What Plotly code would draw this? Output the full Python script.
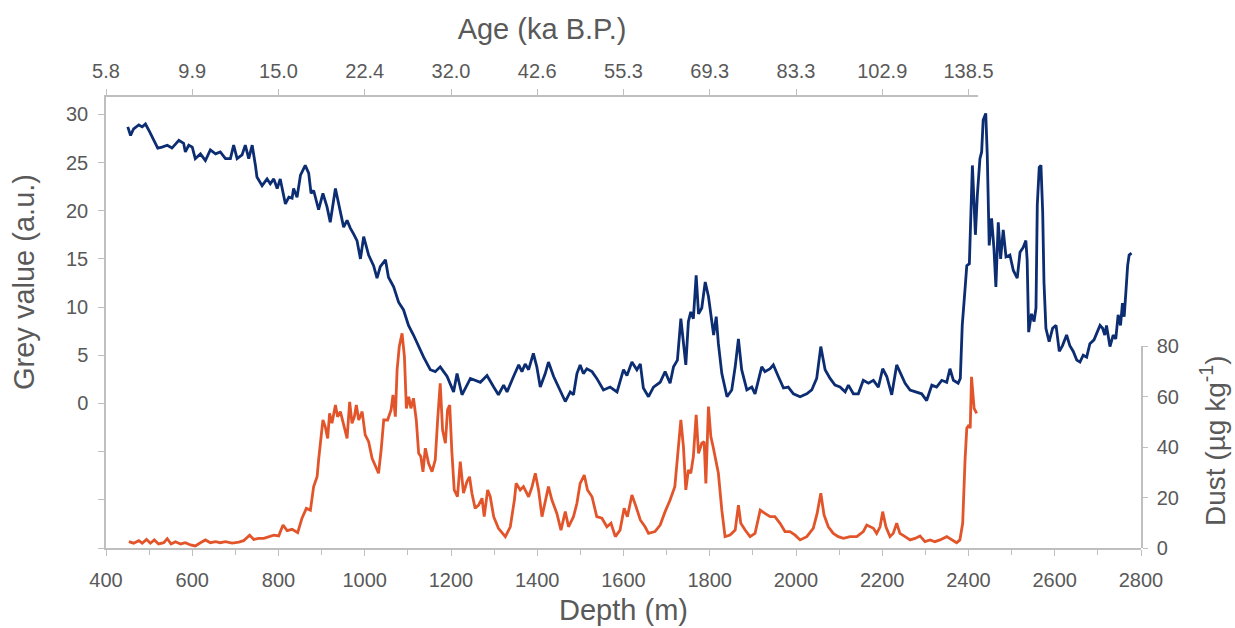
import plotly.graph_objects as go

# ---------------- data ----------------
grey_depth = [450.5, 457, 464, 476, 484, 491.5, 501, 511, 520, 530, 542, 553, 569, 580, 584, 592, 600, 607, 619, 630.5,
              642, 654, 665, 677, 688.5, 696, 704, 715.5, 723, 731, 739, 746.5, 750, 762, 773.5, 781, 789, 797, 804, 816,
              824, 831.5, 835, 843, 851, 862, 870, 875.5, 881.5, 893, 903, 912.5, 920, 932, 939.5, 951, 959, 966.5, 974, 982,
              990, 997.5, 1009, 1020.5, 1028.5, 1036, 1048, 1055, 1067, 1078.5, 1090, 1101.5, 1113, 1125, 1136.5, 1152,
              1163.5, 1175, 1191, 1206, 1214, 1225.5, 1245, 1268, 1283.5, 1299, 1310, 1322, 1330, 1345, 1357, 1364.5, 1372,
              1380, 1391, 1399, 1407, 1418.5, 1426, 1438, 1449, 1457, 1465, 1476.5, 1484, 1492, 1499.5, 1507, 1515, 1527,
              1538, 1553.5, 1569, 1585, 1600, 1608, 1619.5, 1631, 1639, 1646, 1658, 1669.5, 1685, 1696.5, 1708, 1716, 1725,
              1733, 1739, 1744.5, 1750.5, 1756, 1762, 1768.5, 1774, 1781.5, 1789.5, 1797, 1809, 1815, 1820, 1828, 1840,
              1851, 1859, 1866.5, 1874, 1886, 1897.5, 1905, 1920.5, 1928, 1940, 1947.5, 1959, 1971, 1982, 1994, 2009.5,
              2025, 2036.5, 2048, 2057.5, 2067.5, 2079, 2090.5, 2102, 2114, 2121.5, 2133, 2144.5, 2156, 2168, 2179.5, 2191,
              2201, 2210.5, 2222, 2233.5, 2245, 2253, 2264.5, 2276, 2291.5, 2303, 2315, 2326, 2338, 2349.5, 2357, 2365,
              2376, 2381, 2385.5, 2392, 2396, 2402, 2406, 2409, 2413, 2416, 2420.5, 2426.5, 2430.5, 2434, 2440, 2443.5,
              2448, 2453.5, 2459, 2463.5, 2469, 2474.5, 2480.5, 2487, 2496, 2504, 2513, 2519.5, 2527, 2533, 2536, 2539.5,
              2546, 2552, 2556.5, 2559.5, 2564, 2568, 2572, 2575, 2579.5, 2587, 2595, 2603, 2610.5, 2618, 2627.5, 2635,
              2643, 2651, 2658.5, 2666, 2674, 2681.5, 2691, 2697, 2705, 2711, 2716, 2720, 2728, 2735.5, 2741.5, 2747,
              2752.5, 2757, 2761, 2765, 2769, 2772.5, 2778]
grey_value = [28.7, 27.8, 28.5, 28.9, 28.7, 29.0, 28.2, 27.3, 26.5, 26.6, 26.8, 26.5, 27.3, 27.0, 26.1, 26.8, 26.6, 25.4,
              25.9, 25.2, 26.3, 25.9, 26.1, 25.4, 25.4, 26.8, 25.4, 25.8, 26.8, 25.4, 26.8, 24.7, 23.5, 22.6, 23.3, 22.8,
              23.3, 22.3, 23.3, 20.7, 21.4, 21.3, 22.3, 21.4, 23.7, 24.7, 23.9, 21.8, 22.1, 20.1, 21.8, 20.4, 18.8, 22.3,
              20.7, 18.3, 19.0, 18.2, 17.6, 16.9, 15.0, 17.3, 15.4, 14.3, 13.0, 14.2, 14.9, 13.1, 12.1, 10.5, 9.7, 8.1,
              7.1, 5.9, 4.8, 3.5, 3.3, 3.8, 2.8, 1.2, 3.1, 0.9, 2.6, 2.2, 2.9, 1.7, 0.9, 1.9, 1.2, 2.8, 4.0, 3.3, 4.1, 3.5,
              5.2, 3.8, 1.7, 3.1, 4.3, 2.8, 1.7, 0.9, 0.2, 1.2, 0.9, 3.1, 4.0, 3.1, 3.6, 3.3, 2.6, 1.4, 1.7, 1.2, 3.5, 2.9,
              4.3, 3.5, 4.1, 1.6, 0.7, 1.7, 2.2, 3.3, 2.1, 3.8, 4.5, 8.8, 5.9, 4.0, 8.5, 9.5, 8.8, 13.3, 9.3, 9.9, 12.6,
              11.1, 7.1, 9.0, 6.2, 3.1, 0.7, 1.4, 3.8, 6.7, 3.5, 1.4, 1.7, 1.0, 3.8, 3.3, 3.6, 4.0, 2.8, 1.6, 1.7, 1.0,
              0.7, 1.0, 1.4, 2.6, 5.9, 3.5, 2.6, 1.9, 1.7, 1.2, 1.9, 1.0, 1.0, 2.4, 2.1, 2.4, 1.7, 3.6, 2.8, 0.9, 4.0, 2.9,
              2.1, 1.4, 1.2, 1.0, 0.3, 1.9, 1.7, 2.4, 2.2, 3.6, 2.4, 2.1, 2.6, 8.1, 11.9, 14.3, 14.5, 21.6, 24.7, 20.6,
              17.5, 21.6, 25.4, 26.1, 29.4, 30.1, 25.8, 16.4, 19.2, 16.1, 12.1, 18.8, 15.0, 18.0, 15.2, 15.4, 13.8, 13.0,
              15.7, 16.2, 16.9, 14.9, 7.4, 9.3, 8.5, 9.9, 20.6, 24.5, 24.7, 19.9, 12.6, 7.8, 6.4, 7.8, 8.1, 5.4, 6.0, 7.1,
              6.0, 5.4, 4.5, 4.3, 5.0, 4.8, 6.2, 6.6, 7.3, 8.1, 7.8, 7.1, 8.1, 5.9, 7.1, 6.7, 9.2, 8.1, 10.4, 9.0, 11.6,
              14.3, 15.4, 15.6]

dust_depth = [453, 464, 476, 484, 494, 503, 512, 522, 534, 542, 551, 561, 573, 584, 596, 607, 619, 630.5, 642, 654, 665,
              677, 692.5, 708, 719, 733, 742.5, 754, 766, 777, 789, 800.5, 810.5, 820, 831.5, 844.5, 854.5, 864.5, 874,
              881.5, 889.5, 893, 898.5, 903, 908.5, 914, 918.5, 924, 932, 937, 943.5, 951, 959, 965, 970.5, 976, 980.5,
              986, 994, 1001, 1009, 1017, 1024.5, 1032, 1038, 1044, 1053, 1061, 1065.5, 1071, 1075, 1080, 1086.5, 1092,
              1096.5, 1102, 1107, 1113, 1119.5, 1125, 1130, 1135, 1140.5, 1148, 1156, 1163.5, 1169, 1175, 1180.5, 1187,
              1192, 1197, 1202, 1207.5, 1215, 1221.5, 1229, 1237, 1243, 1248.5, 1256, 1264, 1272, 1277, 1285, 1291, 1299,
              1310, 1326, 1337.5, 1347, 1351, 1360.5, 1368, 1380, 1388, 1395.5, 1403, 1411, 1418.5, 1426, 1434, 1445.5,
              1455, 1465, 1472.5, 1484, 1492, 1499.5, 1509, 1516.5, 1527, 1538, 1550, 1561.5, 1571, 1581, 1592, 1601.5,
              1609, 1619.5, 1629, 1639, 1650, 1658, 1673, 1685, 1696.5, 1708, 1719, 1726, 1733, 1739, 1744.5, 1750.5,
              1756, 1762, 1768.5, 1774, 1781.5, 1787, 1791, 1797, 1802.5, 1808.5, 1815, 1820, 1828, 1835.5, 1847, 1859,
              1866.5, 1872, 1882, 1893.5, 1905, 1917, 1928, 1940, 1951, 1963, 1974.5, 1986, 1998, 2009.5, 2025, 2040,
              2049, 2057.5, 2065, 2075, 2086.5, 2098, 2110, 2125.5, 2141, 2156, 2164, 2172, 2179.5, 2187, 2195, 2201,
              2208.5, 2218, 2225.5, 2233.5, 2241, 2253, 2264.5, 2276, 2287.5, 2299, 2311, 2322, 2334, 2349.5, 2361,
              2372.5, 2380, 2386.5, 2392, 2396, 2401, 2404, 2407, 2410, 2413, 2419]
dust_value = [2.5, 1.9, 2.9, 1.9, 3.4, 1.9, 3.2, 1.6, 2.1, 3.7, 1.6, 2.5, 1.6, 2.1, 1.2, 0.8, 2.1, 3.2, 2.1, 2.5, 2.1,
              2.5, 1.9, 2.3, 2.9, 5.1, 3.4, 3.8, 3.8, 4.5, 5.1, 4.8, 9.1, 6.9, 7.4, 6.1, 11.8, 15.7, 15.0, 24.3, 28.2,
              34.9, 44.1, 50.7, 48.0, 43.4, 53.3, 49.4, 56.6, 52.0, 54.0, 49.4, 43.4, 57.9, 49.4, 52.0, 56.6, 50.7, 54.0,
              44.8, 42.1, 35.5, 32.2, 29.6, 38.8, 50.7, 50.7, 54.7, 60.6, 52.0, 70.5, 79.7, 85.0, 75.8, 55.3, 59.9, 55.3,
              59.3, 50.7, 37.5, 36.2, 30.2, 39.5, 33.5, 30.2, 34.9, 50.7, 65.2, 46.7, 41.5, 54.7, 56.6, 38.1, 23.0, 20.3,
              34.2, 21.7, 26.3, 28.2, 21.7, 15.7, 17.0, 19.7, 12.4, 23.0, 20.3, 12.4, 7.8, 4.5, 8.4, 19.0, 25.6, 23.0,
              24.3, 20.3, 24.3, 29.6, 23.0, 12.4, 19.0, 24.3, 19.0, 13.7, 7.1, 14.4, 8.4, 12.4, 17.7, 25.6, 28.9, 23.0,
              20.3, 12.4, 11.8, 8.4, 9.8, 4.5, 7.1, 15.7, 12.4, 21.0, 16.4, 11.1, 8.4, 5.8, 6.5, 9.1, 14.4, 19.0, 24.3,
              36.2, 50.7, 40.1, 23.0, 30.9, 29.6, 36.2, 52.7, 37.5, 41.5, 42.1, 25.6, 56.0, 44.1, 39.5, 34.2, 29.6, 15.0,
              4.5, 5.1, 7.1, 17.0, 9.8, 7.1, 4.5, 5.8, 15.0, 13.7, 12.4, 12.4, 9.8, 6.5, 6.5, 5.1, 3.2, 4.5, 7.8, 13.7,
              21.7, 13.1, 8.4, 5.8, 4.5, 3.8, 4.5, 4.5, 6.5, 9.1, 8.4, 7.8, 5.8, 8.4, 14.4, 8.4, 4.5, 5.8, 9.8, 5.8, 4.5,
              3.2, 3.8, 4.8, 2.5, 3.2, 2.5, 3.2, 4.5, 3.2, 2.1, 3.2, 9.8, 34.9, 47.4, 48.7, 47.4, 67.8, 60.0, 55.3, 53.3]

depth_ticks = [400, 600, 800, 1000, 1200, 1400, 1600, 1800, 2000, 2200, 2400, 2600, 2800]
age_tick_depths = [400, 600, 800, 1000, 1200, 1400, 1600, 1800, 2000, 2200, 2400]
age_labels = ["5.8", "9.9", "15.0", "22.4", "32.0", "42.6", "55.3", "69.3", "83.3", "102.9", "138.5"]
grey_ticks = [0, 5, 10, 15, 20, 25, 30]
grey_unlabelled_ticks = [-15, -10, -5]
dust_ticks = [0, 20, 40, 60, 80]

# ---------------- style ----------------
BLUE = "#0c2d72"
ORANGE = "#e2552b"
TXT = "#595959"
AX = "#bfbfbf"
FONT = "Liberation Sans, Arial, sans-serif"
TICK_SIZE = 20
TITLE_SIZE = 29

fig = go.Figure()
fig.add_trace(go.Scatter(x=dust_depth, y=dust_value, mode="lines", xaxis="x", yaxis="y3",
                         line=dict(color=ORANGE, width=2.8), showlegend=False, hoverinfo="skip"))
fig.add_trace(go.Scatter(x=grey_depth, y=grey_value, mode="lines", xaxis="x", yaxis="y",
                         line=dict(color=BLUE, width=2.8), showlegend=False, hoverinfo="skip"))
# carriers so that the top age axis and the right dust axis are drawn
fig.add_trace(go.Scatter(x=[None], y=[None], xaxis="x2", yaxis="y", showlegend=False, hoverinfo="skip"))
fig.add_trace(go.Scatter(x=[None], y=[None], xaxis="x", yaxis="y2", showlegend=False, hoverinfo="skip"))

W, H = 1235, 628
ML, MR, MT, MB = 106, 94, 97, 80
plot_w = W - ML - MR
plot_h = H - MT - MB
dust_top_px = 346
dust_dom = (MT + plot_h - dust_top_px) / plot_h
top_end_px = 978
top_dom = (top_end_px - ML) / plot_w
top_range_end = 400 + top_dom * 2400

common = dict(showgrid=False, zeroline=False, showline=True, linecolor=AX, linewidth=1.5,
              ticks="outside", tickcolor=AX, tickwidth=1.2, automargin=False,
              tickfont=dict(family=FONT, size=TICK_SIZE, color=TXT))

fig.update_layout(
    width=W, height=H,
    margin=dict(l=ML, r=MR, t=MT, b=MB, pad=0, autoexpand=False),
    paper_bgcolor="white", plot_bgcolor="rgba(0,0,0,0)",
    font=dict(family=FONT, color=TXT),
    xaxis=dict(domain=[0, 1], range=[400, 2800], anchor="y", tickvals=depth_ticks, ticklen=6,
               minor=dict(dtick=100, tick0=400, ticks="outside", ticklen=5, tickcolor=AX, tickwidth=1.2),
               ticklabelstandoff=7,
               title=dict(text="Depth (m)", font=dict(family=FONT, size=TITLE_SIZE, color=TXT), standoff=10),
               **common),
    xaxis2=dict(domain=[0, top_dom], range=[400, top_range_end], anchor="y", side="top",
                tickvals=age_tick_depths, ticktext=age_labels, ticklen=6, ticklabelstandoff=3,
                title=dict(text="Age (ka B.P.)", font=dict(family=FONT, size=TITLE_SIZE, color=TXT), standoff=12),
                **common),
    yaxis=dict(domain=[0, 1], range=[-15, 31.8], anchor="x", tickvals=grey_ticks,
               minor=dict(tickvals=grey_unlabelled_ticks, ticks="outside", ticklen=6, tickcolor=AX, tickwidth=1.2),
               ticklen=6, ticklabelstandoff=6, **common),
    yaxis2=dict(domain=[0, dust_dom], range=[0, 80], anchor="x", side="right", tickvals=dust_ticks,
                ticklen=5, ticklabelstandoff=5, **common),
    yaxis3=dict(overlaying="y", range=[0, 80 / dust_dom], visible=False, showgrid=False, zeroline=False),
)

fig.add_annotation(text="Grey value (a.u.)", xref="paper", yref="paper",
                   x=(24 - ML) / plot_w, y=(MT + plot_h - 282) / plot_h, textangle=-90,
                   xanchor="center", yanchor="middle",
                   showarrow=False, font=dict(family=FONT, size=TITLE_SIZE, color=TXT))
fig.add_annotation(text="Dust (µg kg<sup>-1</sup>)", xref="paper", yref="paper",
                   x=(1213 - ML) / plot_w, y=(MT + plot_h - 441) / plot_h, textangle=-90,
                   xanchor="center", yanchor="middle",
                   showarrow=False, font=dict(family=FONT, size=28, color=TXT))

fig.write_html("out.html", config={"displayModeBar": False},
               post_script="document.body.style.margin='0px';")
